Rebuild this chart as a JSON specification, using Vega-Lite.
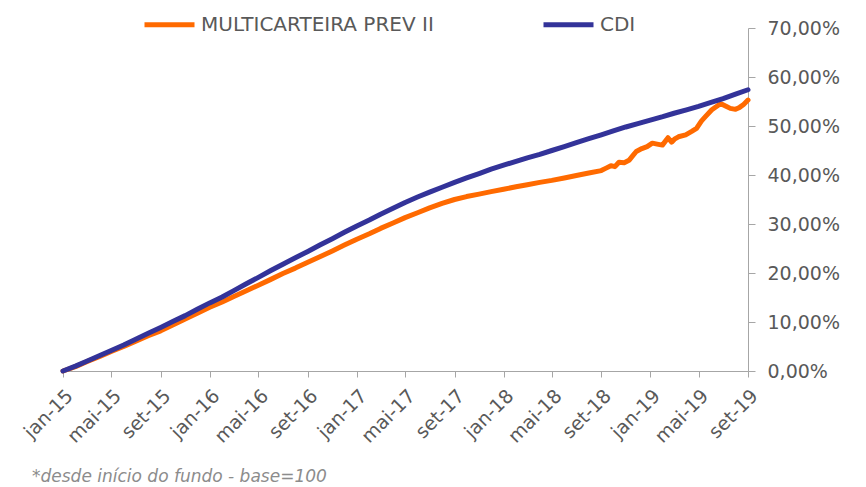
{
"$schema": "https://vega.github.io/schema/vega-lite/v6.json",
"width": 685, "height": 343,
"autosize": {"type": "none"},
"padding": {"left": 63, "top": 28, "right": 118, "bottom": 116},
"background": "white",
"title": {"text": "*desde início do fundo - base=100", "orient": "bottom", "anchor": "start", "frame": "group", "dx": -31, "offset": 23, "font": "DejaVu Sans", "fontStyle": "italic", "fontWeight": "normal", "fontSize": 17, "color": "#8c8c8c"},
"datasets": {
"cdi": [
{"d":"2015-01-01","v":0.0},{"d":"2015-02-01","v":1.0},{"d":"2015-03-01","v":2.0},{"d":"2015-04-01","v":3.1},{"d":"2015-05-01","v":4.2},{"d":"2015-06-01","v":5.3},{"d":"2015-07-01","v":6.5},{"d":"2015-08-01","v":7.7},{"d":"2015-09-01","v":8.9},{"d":"2015-10-01","v":10.1},{"d":"2015-11-01","v":11.3},{"d":"2015-12-01","v":12.6},
{"d":"2016-01-01","v":13.9},{"d":"2016-02-01","v":15.1},{"d":"2016-03-01","v":16.4},{"d":"2016-04-01","v":17.8},{"d":"2016-05-01","v":19.1},{"d":"2016-06-01","v":20.5},{"d":"2016-07-01","v":21.8},{"d":"2016-08-01","v":23.1},{"d":"2016-09-01","v":24.4},{"d":"2016-10-01","v":25.7},{"d":"2016-11-01","v":27.0},{"d":"2016-12-01","v":28.3},
{"d":"2017-01-01","v":29.6},{"d":"2017-02-01","v":30.8},{"d":"2017-03-01","v":32.0},{"d":"2017-04-01","v":33.2},{"d":"2017-05-01","v":34.4},{"d":"2017-06-01","v":35.5},{"d":"2017-07-01","v":36.5},{"d":"2017-08-01","v":37.5},{"d":"2017-09-01","v":38.5},{"d":"2017-10-01","v":39.4},{"d":"2017-11-01","v":40.3},{"d":"2017-12-01","v":41.2},
{"d":"2018-01-01","v":42.0},{"d":"2018-02-01","v":42.8},{"d":"2018-03-01","v":43.5},{"d":"2018-04-01","v":44.2},{"d":"2018-05-01","v":45.0},{"d":"2018-06-01","v":45.8},{"d":"2018-07-01","v":46.6},{"d":"2018-08-01","v":47.4},{"d":"2018-09-01","v":48.2},{"d":"2018-10-01","v":49.0},{"d":"2018-11-01","v":49.8},{"d":"2018-12-01","v":50.5},
{"d":"2019-01-01","v":51.2},{"d":"2019-02-01","v":51.9},{"d":"2019-03-01","v":52.6},{"d":"2019-04-01","v":53.3},{"d":"2019-05-01","v":54.0},{"d":"2019-06-01","v":54.8},{"d":"2019-07-01","v":55.6},{"d":"2019-08-01","v":56.5},{"d":"2019-09-01","v":57.4}
],
"multi": [
{"d":"2015-01-01","v":0.0},{"d":"2015-02-01","v":0.9},{"d":"2015-03-01","v":1.9},{"d":"2015-04-01","v":2.9},{"d":"2015-05-01","v":4.0},{"d":"2015-06-01","v":5.0},{"d":"2015-07-01","v":6.1},{"d":"2015-08-01","v":7.2},{"d":"2015-09-01","v":8.2},{"d":"2015-10-01","v":9.4},{"d":"2015-11-01","v":10.6},{"d":"2015-12-01","v":11.8},
{"d":"2016-01-01","v":13.0},{"d":"2016-02-01","v":14.1},{"d":"2016-03-01","v":15.2},{"d":"2016-04-01","v":16.4},{"d":"2016-05-01","v":17.5},{"d":"2016-06-01","v":18.7},{"d":"2016-07-01","v":19.9},{"d":"2016-08-01","v":21.0},{"d":"2016-09-01","v":22.2},{"d":"2016-10-01","v":23.3},{"d":"2016-11-01","v":24.5},{"d":"2016-12-01","v":25.7},
{"d":"2017-01-01","v":26.9},{"d":"2017-02-01","v":28.0},{"d":"2017-03-01","v":29.1},{"d":"2017-04-01","v":30.2},{"d":"2017-05-01","v":31.3},{"d":"2017-06-01","v":32.3},{"d":"2017-07-01","v":33.3},{"d":"2017-08-01","v":34.2},{"d":"2017-09-01","v":35.0},{"d":"2017-10-01","v":35.6},{"d":"2017-11-01","v":36.1},{"d":"2017-12-01","v":36.6},
{"d":"2018-01-01","v":37.1},{"d":"2018-02-01","v":37.6},{"d":"2018-03-01","v":38.0},{"d":"2018-04-01","v":38.5},{"d":"2018-05-01","v":38.9},{"d":"2018-06-01","v":39.4},{"d":"2018-07-01","v":39.9},{"d":"2018-08-01","v":40.4},{"d":"2018-09-01","v":40.9},
{"d":"2018-09-13","v":41.4},{"d":"2018-09-25","v":41.9},{"d":"2018-10-05","v":41.7},{"d":"2018-10-15","v":42.6},{"d":"2018-10-28","v":42.5},{"d":"2018-11-09","v":43.0},{"d":"2018-11-19","v":44.0},{"d":"2018-11-27","v":44.8},{"d":"2018-12-11","v":45.4},{"d":"2018-12-24","v":45.8},
{"d":"2019-01-06","v":46.5},{"d":"2019-01-18","v":46.3},{"d":"2019-01-31","v":46.1},{"d":"2019-02-14","v":47.6},{"d":"2019-02-23","v":46.7},{"d":"2019-03-02","v":47.3},{"d":"2019-03-12","v":47.8},{"d":"2019-03-30","v":48.2},{"d":"2019-04-14","v":48.9},{"d":"2019-04-26","v":49.5},{"d":"2019-05-08","v":51.0},{"d":"2019-05-18","v":51.9},{"d":"2019-06-03","v":53.3},{"d":"2019-06-20","v":54.3},{"d":"2019-06-27","v":54.5},{"d":"2019-07-07","v":54.1},{"d":"2019-07-19","v":53.6},{"d":"2019-08-01","v":53.4},{"d":"2019-08-11","v":53.8},{"d":"2019-08-21","v":54.4},{"d":"2019-09-01","v":55.3}
]
},
"encoding": {
  "x": {"field": "d", "type": "temporal",
    "scale": {"type": "utc", "domain": [{"year": 2015, "month": 1, "date": 1, "utc": true}, {"year": 2019, "month": 9, "date": 1, "utc": true}]},
    "axis": {"title": null, "grid": false, "tickCount": {"interval": "month", "step": 4},
      "labelExpr": "['jan','fev','mar','abr','mai','jun','jul','ago','set','out','nov','dez'][utcmonth(datum.value)] + '-' + utcFormat(datum.value, '%y')",
      "labelAngle": -45, "labelFont": "DejaVu Sans", "labelFontSize": 19, "labelColor": "#595959", "labelOverlap": false, "labelFlush": false,
      "domainColor": "#a6a6a6", "tickColor": "#a6a6a6", "tickSize": 6, "labelPadding": 9}},
  "y": {"field": "p", "type": "quantitative",
    "scale": {"domain": [0, 0.7], "nice": false},
    "axis": {"title": null, "grid": false, "orient": "right", "values": [0, 0.1, 0.2, 0.3, 0.4, 0.5, 0.6, 0.7],
      "labelExpr": "replace(format(datum.value, '.2%'), '.', ',')",
      "labelFont": "DejaVu Sans", "labelFontSize": 19, "labelColor": "#595959",
      "domainColor": "#a6a6a6", "tickColor": "#a6a6a6", "tickSize": 7, "labelPadding": 12}},
  "color": {"field": "s", "type": "nominal",
    "scale": {"domain": ["MULTICARTEIRA PREV II", "CDI"], "range": ["#FF6A00", "#333399"]},
    "legend": {"orient": "none", "legendX": 79, "legendY": -31, "direction": "horizontal", "title": null,
      "symbolType": "stroke", "symbolSize": 2500, "symbolStrokeWidth": 5,
      "labelFont": "DejaVu Sans", "labelFontSize": 20, "labelColor": "#595959", "labelLimit": 0,
      "columnPadding": 99, "labelOffset": 4}}
},
"layer": [
  {"data": {"name": "multi"}, "transform": [{"calculate": "'MULTICARTEIRA PREV II'", "as": "s"}, {"calculate": "datum.v / 100", "as": "p"}],
   "mark": {"type": "line", "strokeWidth": 5, "strokeCap": "round", "strokeJoin": "round"}},
  {"data": {"name": "cdi"}, "transform": [{"calculate": "'CDI'", "as": "s"}, {"calculate": "datum.v / 100", "as": "p"}],
   "mark": {"type": "line", "strokeWidth": 5, "strokeCap": "round", "strokeJoin": "round"}}
],
"config": {"view": {"stroke": null}}
}
